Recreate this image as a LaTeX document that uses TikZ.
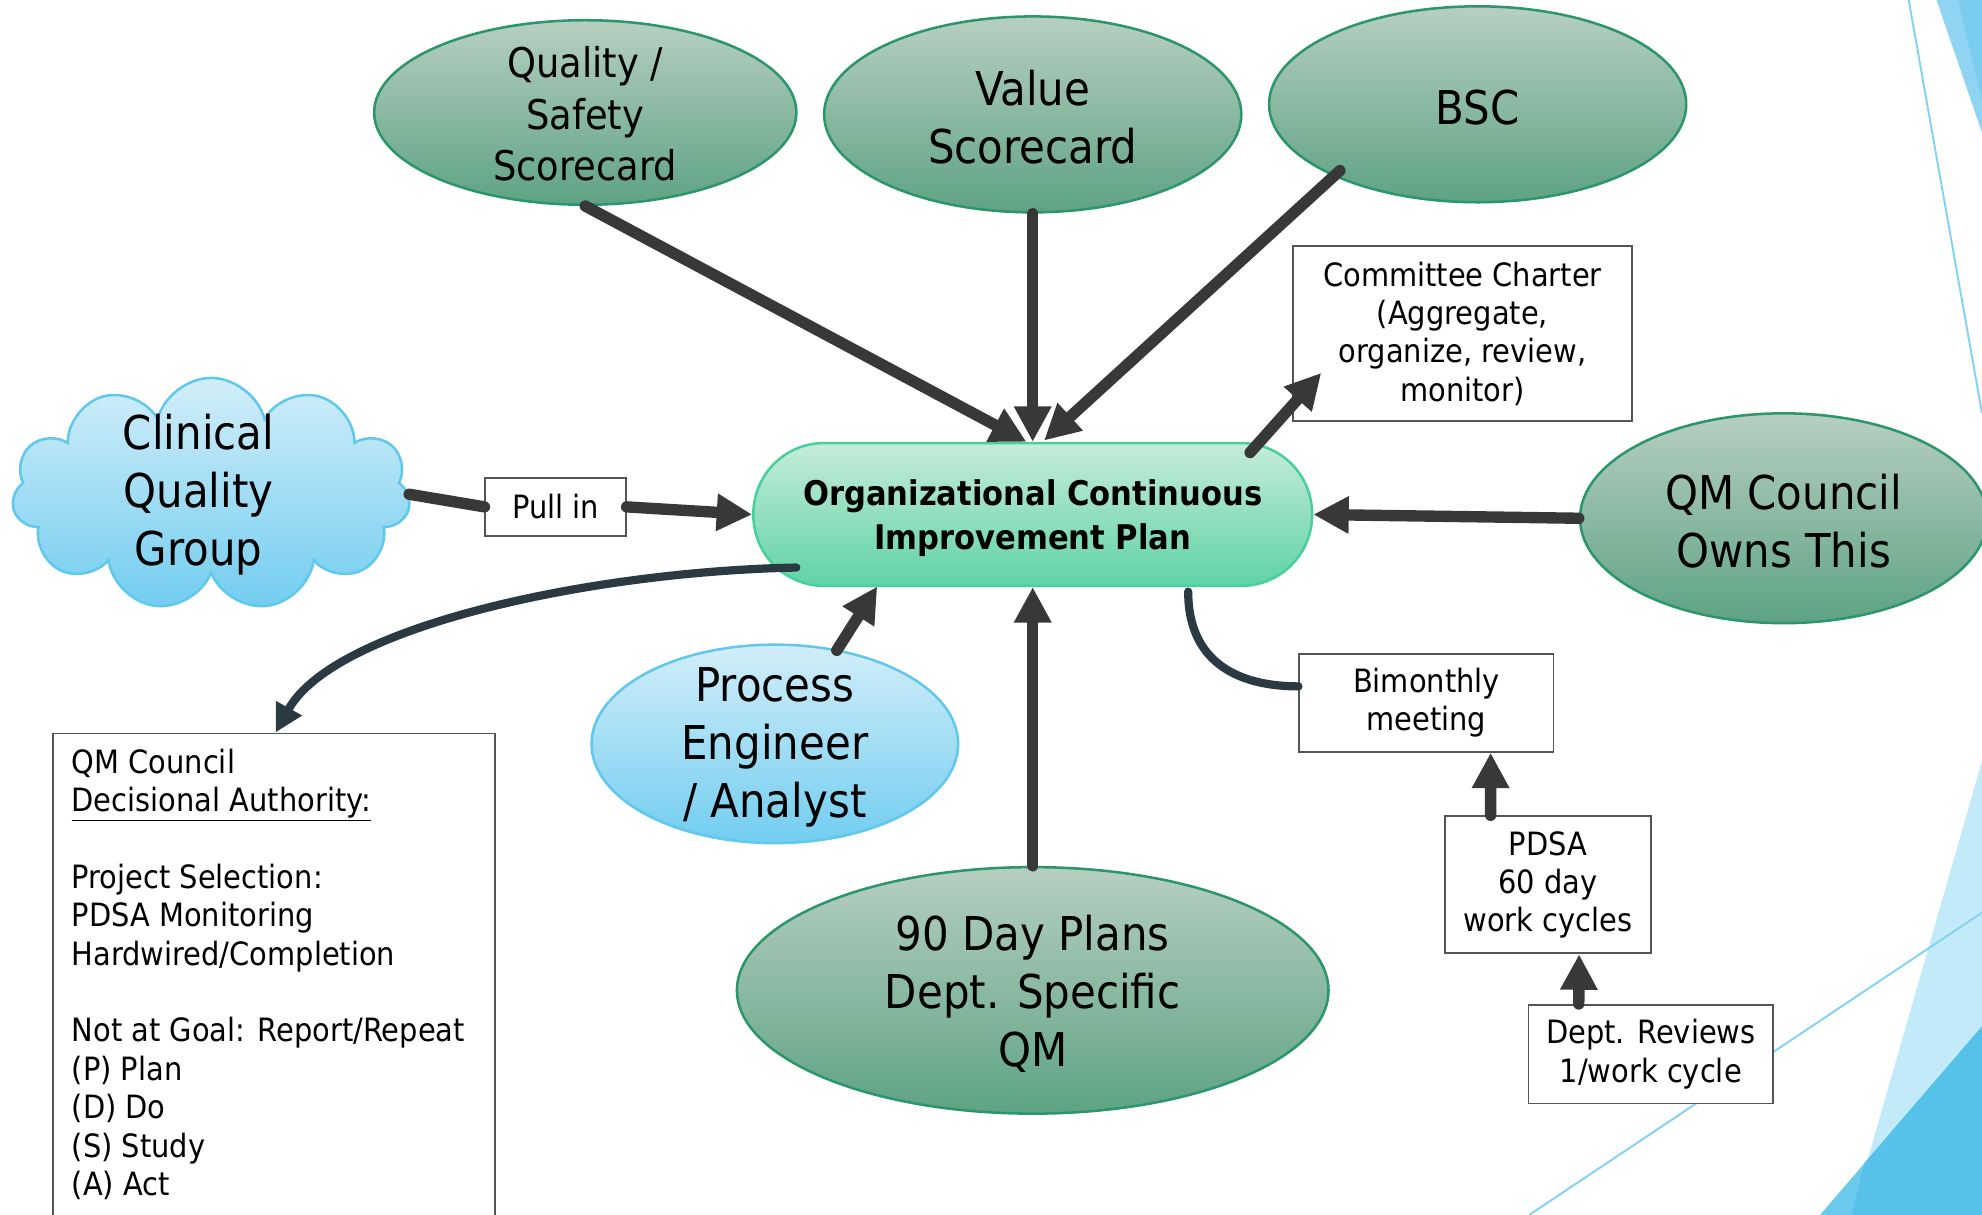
\documentclass[tikz,border=0pt]{standalone}
\usepackage{fontspec}
\setmainfont{DejaVu Sans}[FakeStretch=0.9]
\usetikzlibrary{shapes.geometric,shapes.symbols,arrows.meta,calc}
\definecolor{grntop}{RGB}{183,207,193}
\definecolor{grnbot}{RGB}{94,163,131}
\definecolor{grnborder}{RGB}{43,150,108}
\definecolor{ciptop}{RGB}{197,236,218}
\definecolor{cipbot}{RGB}{96,211,166}
\definecolor{cipborder}{RGB}{72,207,158}
\definecolor{blutop}{RGB}{210,238,249}
\definecolor{blubot}{RGB}{114,205,240}
\definecolor{bluborder}{RGB}{96,200,236}
\definecolor{arrgray}{RGB}{56,56,56}
\definecolor{curvcol}{RGB}{43,58,66}
\definecolor{boxborder}{RGB}{85,85,85}
\definecolor{declight}{RGB}{195,234,248}
\definecolor{decdark}{RGB}{86,194,234}
\definecolor{decmid}{RGB}{108,202,236}
\definecolor{decline}{RGB}{128,211,242}
\definecolor{dectop}{RGB}{143,213,241}
\definecolor{dectopdark}{RGB}{122,205,238}
\begin{document}
\begin{tikzpicture}[x=1bp,y=-1bp,
  greenell/.style={ellipse, draw=grnborder, line width=2bp, top color=grntop, bottom color=grnbot, inner sep=0pt},
  blueshape/.style={draw=bluborder, line width=2bp, top color=blutop, bottom color=blubot, inner sep=0pt},
  bigtxt/.style={font=\fontsize{37}{46}\selectfont, align=center, inner sep=0pt, yshift=-2.5bp},
  midtxt/.style={font=\fontsize{32.5}{41}\selectfont, align=center, inner sep=0pt, yshift=-1bp},
  boxnode/.style={draw=boxborder, line width=1.5bp, fill=white, align=center, font=\fontsize{25.5}{30.5}\selectfont, inner sep=0pt},
  conn/.style={draw=arrgray, line width=9bp, line cap=round},
  arr/.style={conn, -{Triangle[length=28bp,width=28bp]}},
  curv/.style={draw=curvcol, line width=6.5bp, line cap=round}
]
\useasboundingbox (0,0) rectangle (1568,961);
\clip (0,0) rectangle (1568,961);
\fill[white] (0,0) rectangle (1568,961);
% decorations
\fill[dectop] (1532,0) -- (1568,0) -- (1568,105) -- cycle;
\fill[dectopdark] (1549,0) -- (1568,0) -- (1568,80) -- cycle;
\draw[decline, line width=1.5bp] (1510,0) -- (1568,327);
\fill[declight] (1568,602) -- (1465,961) -- (1568,961) -- cycle;
\fill[decmid] (1568,812) -- (1440,961) -- (1568,961) -- cycle;
\fill[decdark] (1568,812) -- (1475,920) -- (1465,961) -- (1568,961) -- cycle;
\draw[decline, line width=1.5bp] (1210,961) -- (1568,722);

% nodes
\node[greenell, minimum width=334bp, minimum height=146bp,
  label={[midtxt]center:{Quality /\\Safety\\Scorecard}}] (qss) at (463,89) {};
\node[greenell, minimum width=330bp, minimum height=155bp,
  label={[bigtxt]center:{Value\\Scorecard}}] (val) at (817,90.5) {};
\node[greenell, minimum width=330bp, minimum height=155bp,
  label={[bigtxt]center:{BSC}}] (bsc) at (1169,82.5) {};
\node[greenell, minimum width=322bp, minimum height=166bp,
  label={[bigtxt]center:{QM Council\\Owns This}}] (qmc) at (1411,410) {};
\node[greenell, minimum width=468bp, minimum height=195bp,
  label={[bigtxt]center:{90 Day Plans\\Dept. Specific\\QM}}] (nd) at (817,783.5) {};
\node[blueshape, ellipse, minimum width=290bp, minimum height=157bp,
  label={[bigtxt]center:{Process\\Engineer\\/ Analyst}}] (pe) at (613,588.5) {};
\node[blueshape, cloud, cloud puffs=11, aspect=1.75, minimum width=315bp, minimum height=184bp] (cloud) at (167,391) {};
\node[bigtxt] (cloudtxt) at (157,389) {Clinical\\Quality\\Group};

\node[draw=cipborder, line width=2bp, top color=ciptop, bottom color=cipbot,
  rounded corners=56bp, minimum width=442bp, minimum height=113bp, inner sep=0pt,
  label={[align=center, inner sep=0pt, yshift=-3bp, font=\bfseries\fontsize{27}{35}\selectfont]center:{Organizational Continuous\\Improvement Plan}}] (cip) at (817,407) {};

\node[boxnode, minimum width=268bp, minimum height=138.5bp] (cc) at (1157,264)
  {Committee Charter\\(Aggregate,\\organize, review,\\monitor)};
\node[boxnode, minimum width=111bp, minimum height=46bp] (pull) at (439.5,401) {Pull in};
\node[boxnode, minimum width=201bp, minimum height=77.5bp] (bim) at (1128.5,556) {Bimonthly\\meeting};
\node[boxnode, minimum width=163bp, minimum height=108.5bp] (pdsa) at (1224.5,700) {PDSA\\60 day\\work cycles};
\node[boxnode, minimum width=193.5bp, minimum height=78bp] (dept) at (1306,834) {Dept. Reviews\\1/work cycle};
\node[boxnode, anchor=north west, align=left, inner xsep=15bp, inner ysep=12bp] (qmbox) at (41,579.5)
  {\begin{minipage}[t][400bp][t]{320bp}\raggedright
   QM Council\\
   \underline{Decisional Authority:}\\
   \mbox{}\\
   Project Selection:\\
   PDSA Monitoring\\
   Hardwired/Completion\\
   \mbox{}\\
   Not at Goal: Report/Repeat\\
   (P) Plan\\
   (D) Do\\
   (S) Study\\
   (A) Act
   \end{minipage}};

% connectors
\draw[arr] (qss.south) -- ($(cip.north)+(-5,0)$);
\draw[arr] (val.south) -- (cip.north);
\draw[arr] ($(bsc)+(-109,52.5)$) -- ($(cip.north)+(9,-1)$);
\draw[arr] ($(cip)+(172,-49)$) -- ($(cc.south west)+(23,-39)$);
\draw[arr] (qmc.west) -- (cip.east);
\draw[conn] (cloud.east) -- (pull.west);
\draw[arr] (pull.east) -- (cip.west);
\draw[arr] ($(pe)+(49,-74)$) -- ($(cip)+(-123,57)$);
\draw[arr] (nd.north) -- (cip.south);
\draw[arr] ($(pdsa.north west)+(37,0)$) -- ($(bim.south west)+(152,0)$);
\draw[arr] ($(dept.north west)+(40.5,0)$) -- ($(pdsa.south west)+(107,0)$);
\draw[curv, -{Triangle[length=22bp,width=22bp]}] ($(cip)+(-187,42)$) .. controls (470,452) and (265,495) .. ($(qmbox.north west)+(177,0)$);
\draw[curv] ($(cip)+(123,61)$) .. controls +(0,58) and +(-45,0) .. ($(bim.west)+(0,-13)$);
\end{tikzpicture}
\end{document}
